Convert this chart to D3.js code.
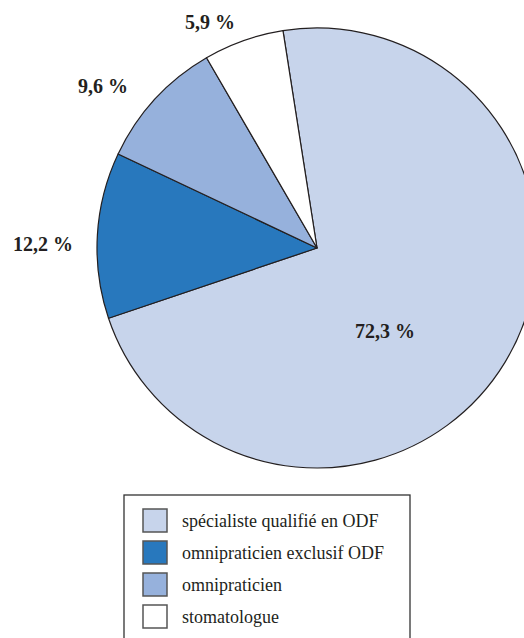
<!DOCTYPE html>
<html>
<head>
<meta charset="utf-8">
<script src="https://cdn.jsdelivr.net/npm/d3@7"></script>
<style>
  html, body { margin: 0; padding: 0; background: #fff; }
  svg { display: block; }
</style>
</head>
<body>
<svg id="chart" width="524" height="638"></svg>
<script>
// Répartition des praticiens
const categories = ["spécialiste qualifié en ODF", "omnipraticien exclusif ODF", "omnipraticien", "stomatologue"];
const values = [72.3, 12.2, 9.6, 5.9];
const valueLabels = ["72,3 %", "12,2 %", "9,6 %", "5,9 %"];

const colors = ["#c7d4eb", "#2878bd", "#96b1dc", "#ffffff"];
const labelPos = [[385, 338], [43, 251], [103, 93], [210, 29]];
const serif = "'Liberation Serif', Tinos, 'Times New Roman', Times, 'Nimbus Roman', 'DejaVu Serif', serif";

const svg = d3.select("#chart");
const cx = 317, cy = 248, radius = 220;
const start = -8.9 * Math.PI / 180;

const pie = d3.pie().sort(null).value(d => d)
  .startAngle(start).endAngle(start + 2 * Math.PI);
const arc = d3.arc().innerRadius(0).outerRadius(radius);

const g = svg.append("g").attr("transform", `translate(${cx},${cy})`);
g.selectAll("path")
  .data(pie(values))
  .join("path")
  .attr("d", arc)
  .attr("fill", (d, i) => colors[i])
  .attr("stroke", "#231f20")
  .attr("stroke-width", 1.2)
  .attr("stroke-linejoin", "round");

svg.selectAll("text.val")
  .data(valueLabels)
  .join("text")
  .attr("class", "val")
  .attr("x", (d, i) => labelPos[i][0])
  .attr("y", (d, i) => labelPos[i][1])
  .attr("text-anchor", "middle")
  .style("font-family", serif)
  .style("font-size", "20px")
  .style("font-weight", "bold")
  .style("fill", "#231f20")
  .text(d => d);

// Légende
const legend = svg.append("g");
legend.append("rect")
  .attr("x", 124).attr("y", 495)
  .attr("width", 286).attr("height", 160)
  .attr("fill", "#fff")
  .attr("stroke", "#333")
  .attr("stroke-width", 1.3);

const rowY = d3.scalePoint().domain(categories).range([509, 605]);
const item = legend.selectAll("g.item")
  .data(categories)
  .join("g")
  .attr("class", "item")
  .attr("transform", d => `translate(143,${rowY(d)})`);
item.append("rect")
  .attr("width", 24).attr("height", 23)
  .attr("fill", (d, i) => colors[i])
  .attr("stroke", "#555")
  .attr("stroke-width", 1.5);
item.append("text")
  .attr("x", 39).attr("y", 18)
  .style("font-family", serif)
  .style("font-size", "18px")
  .style("fill", "#231f20")
  .text(d => d);
</script>
</body>
</html>
